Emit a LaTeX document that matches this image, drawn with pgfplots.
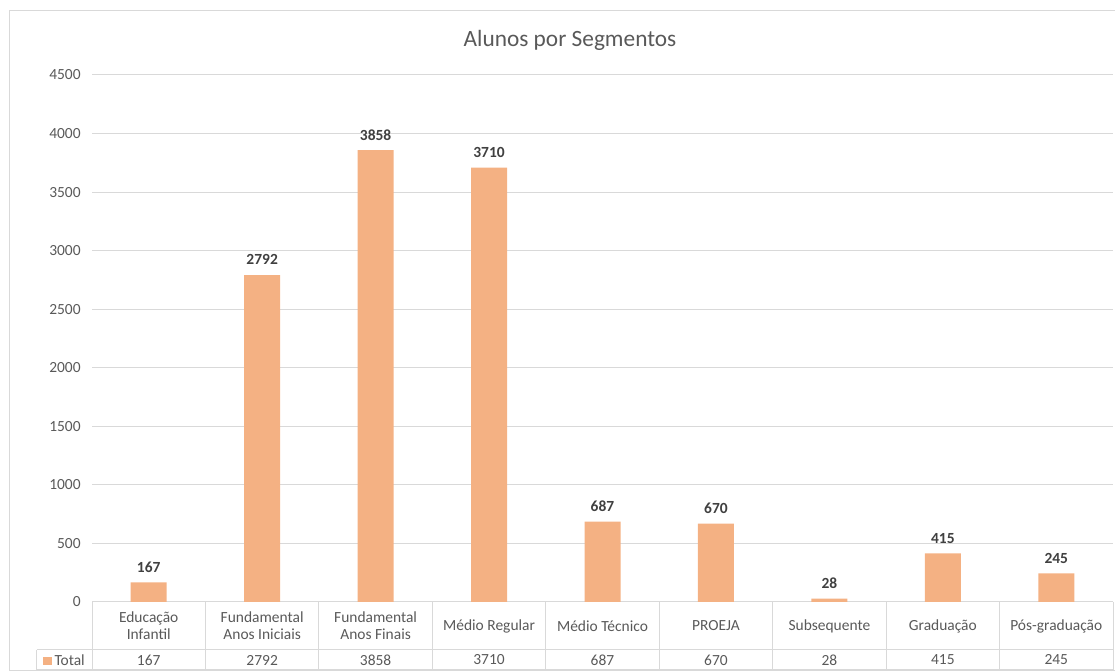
\documentclass[border=0pt]{standalone}
\usepackage{pgfplots}
\pgfplotsset{compat=1.18}
\usepackage{fontspec}
\setmainfont{Carlito}
\definecolor{barorange}{HTML}{F4B183}
\definecolor{gridgray}{HTML}{D9D9D9}
\definecolor{txtgray}{HTML}{595959}
\definecolor{lblgray}{HTML}{404040}
\newcommand{\smallfont}{\fontsize{11.6}{12.75}\selectfont}
\begin{document}
\begin{tikzpicture}
\begin{axis}[
  name=ax,
  scale only axis,
  width=765.75pt, height=395.25pt,
  xmin=-0.5, xmax=8.5, ymin=0, ymax=4500,
  ytick={0,500,...,4500},
  xtick={0,...,8},
  xticklabels={{Educação\\Infantil},{Fundamental\\Anos Iniciais},{Fundamental\\Anos Finais},{Médio Regular},{Médio Técnico},{PROEJA},{Subsequente},{Graduação},{Pós-graduação}},
  xticklabel style={anchor=center, yshift=-18pt, align=center, font=\smallfont, text=txtgray},
  extra x ticks={0,...,8},
  extra x tick labels={167,2792,3858,3710,687,670,28,415,245},
  extra x tick style={xticklabel style={yshift=-25.5pt}},
  yticklabel style={font=\smallfont, text=txtgray, xshift=-5pt},
  ymajorgrids,
  grid style={gridgray, line width=0.75pt},
  axis line style={draw=none},
  major tick length=0pt,
  /pgf/number format/1000 sep={},
  /pgf/number format/assume math mode=true,
  clip=false,
  ybar, bar width=27pt,
  nodes near coords,
  every node near coord/.append style={font=\bfseries\smallfont, text=lblgray, yshift=4pt},
]
\addplot[fill=barorange, draw=none] coordinates {(0,167) (1,2792) (2,3858) (3,3710) (4,687) (5,670) (6,28) (7,415) (8,245)};
\pgfplotsinvokeforeach{-0.5,0.5,...,8.5}{
  \draw[gridgray, line width=0.75pt] (axis cs:#1,0) -- ([yshift=-51pt]axis cs:#1,0);
}
\draw[gridgray, line width=0.75pt] ([xshift=-41.25pt, yshift=-36pt]axis cs:-0.5,0) -- ([yshift=-36pt]axis cs:8.5,0);
\draw[gridgray, line width=0.75pt] ([xshift=-41.25pt, yshift=-51pt]axis cs:-0.5,0) -- ([yshift=-51pt]axis cs:8.5,0);
\draw[gridgray, line width=0.75pt] ([xshift=-41.25pt, yshift=-36pt]axis cs:-0.5,0) -- ([xshift=-41.25pt, yshift=-51pt]axis cs:-0.5,0);
\node[anchor=west, text=txtgray, font=\smallfont, inner sep=0pt] at ([xshift=-36.75pt, yshift=-43.5pt]axis cs:-0.5,0) {{\color{barorange}\rule{6.5pt}{6.5pt}}\,Total};
\end{axis}
\draw[gridgray, line width=0.75pt] ([xshift=-61.9pt, yshift=48pt]ax.north west) rectangle ([xshift=15pt, yshift=-51.75pt]ax.south east);
\node[anchor=base, font=\fontsize{17.5}{20}\selectfont, text=txtgray] at ([xshift=358.5pt, yshift=21.2pt]ax.north west) {Alunos por Segmentos};
\pgfresetboundingbox
\useasboundingbox ([xshift=-69pt, yshift=-52.5pt]ax.south west) rectangle ([xshift=1.5pt, yshift=56.25pt]ax.north east);
\end{tikzpicture}
\end{document}
